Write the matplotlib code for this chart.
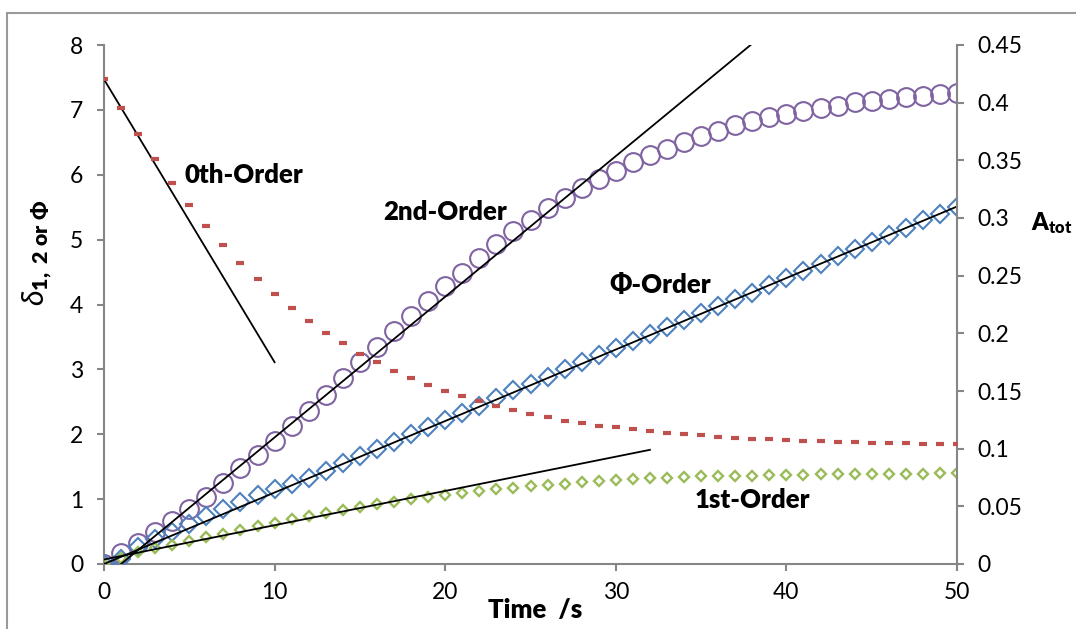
import matplotlib
matplotlib.use("Agg")
import matplotlib.pyplot as plt
from matplotlib.patches import Rectangle

plt.rcParams['font.family'] = ['Lato', 'DejaVu Sans']
plt.rcParams['mathtext.fontset'] = 'custom'
plt.rcParams['mathtext.rm'] = 'Lato'
plt.rcParams['mathtext.bf'] = 'Lato:heavy'
plt.rcParams['mathtext.it'] = 'Lato:italic'

# time axis, s
time = list(range(51))

# delta, 2nd order (purple circles)
delta_2nd = [0.00, 0.17, 0.32, 0.50, 0.66, 0.85, 1.04, 1.25, 1.48, 1.68,
             1.89, 2.12, 2.36, 2.61, 2.87, 3.11, 3.34, 3.59, 3.82, 4.06,
             4.29, 4.49, 4.72, 4.93, 5.14, 5.31, 5.48, 5.64, 5.80, 5.94,
             6.06, 6.19, 6.31, 6.40, 6.51, 6.60, 6.67, 6.76, 6.83, 6.89,
             6.94, 6.99, 7.03, 7.06, 7.12, 7.14, 7.17, 7.20, 7.22, 7.25,
             7.26]

# delta, phi order (blue diamonds)
delta_phi = [0.00, 0.08, 0.26, 0.38, 0.50, 0.62, 0.74, 0.85, 0.96, 1.06,
             1.15, 1.24, 1.33, 1.43, 1.55, 1.66, 1.77, 1.88, 2.00, 2.11,
             2.22, 2.33, 2.44, 2.56, 2.68, 2.78, 2.89, 3.00, 3.11, 3.22,
             3.33, 3.44, 3.55, 3.65, 3.76, 3.87, 3.98, 4.08, 4.18, 4.30,
             4.41, 4.52, 4.63, 4.74, 4.85, 4.96, 5.07, 5.18, 5.30, 5.40,
             5.51]

# delta, 1st order (green small diamonds)
delta_1st = [0.00, 0.09, 0.19, 0.245, 0.30, 0.36, 0.42, 0.47, 0.52, 0.58,
             0.63, 0.69, 0.74, 0.79, 0.84, 0.88, 0.92, 0.96, 1.00, 1.03,
             1.06, 1.09, 1.12, 1.15, 1.17, 1.20, 1.22, 1.24, 1.26, 1.28,
             1.29, 1.31, 1.32, 1.33, 1.34, 1.35, 1.35, 1.36, 1.36, 1.37,
             1.37, 1.37, 1.38, 1.38, 1.38, 1.39, 1.39, 1.39, 1.39, 1.40,
             1.40]

# total absorbance (red dashes, right axis)
a_tot = [0.4202, 0.3956, 0.3725, 0.3508, 0.3303, 0.3110, 0.2934, 0.2767,
         0.2612, 0.2471, 0.2343, 0.2217, 0.2108, 0.2003, 0.1915, 0.1821,
         0.1748, 0.1675, 0.1616, 0.1552, 0.1499, 0.1455, 0.1411, 0.1368,
         0.1332, 0.1300, 0.1274, 0.1244, 0.1221, 0.1200, 0.1186, 0.1168,
         0.1154, 0.1139, 0.1127, 0.1119, 0.1104, 0.1095, 0.1083, 0.1080,
         0.1072, 0.1066, 0.1063, 0.1060, 0.1054, 0.1051, 0.1048, 0.1045,
         0.1042, 0.1042, 0.1040]

# initial-slope lines (x pair, y pair) in left-axis units
tan_0th = ([0, 10], [7.47, 3.11])
tan_2nd = ([1, 37.9], [0.0, 8.0])
tan_phi = ([0, 50], [0.0, 5.51])
tan_1st = ([0, 32], [0.07, 1.76])

labels = ["0th-Order", "2nd-Order", "\u03a6-Order", "1st-Order"]
label_pos = [(8.2, 6.0), (20.0, 5.43), (32.6, 4.30), (38.0, 0.99)]

grey = '#868686'

fig = plt.figure(figsize=(10.76, 6.29), dpi=100)
ax = fig.add_axes([104/1076, 65/629, 853/1076, 519/629])
ax2 = ax.twinx()

ax.plot(time, delta_2nd, 'o', ms=13.5, mfc='none', mec='#8064A2', mew=1.5,
        zorder=3)
ax.plot(time, delta_phi, 'D', ms=9.0, mfc='none', mec='#4F81BD', mew=1.5,
        zorder=3)
ax.plot(time, delta_1st, 'D', ms=5.0, mfc='none', mec='#9BBB59', mew=1.7,
        zorder=3)
ax2.plot(time, a_tot, '_', ms=5.5, mec='#C0504D', mew=3.0, zorder=3)

for xs, ys in (tan_0th, tan_2nd, tan_phi, tan_1st):
    ax.plot(xs, ys, '-', color='black', lw=1.3, zorder=4)

for txt, (px, py) in zip(labels, label_pos):
    ax.text(px, py, txt, fontsize=18.5, fontweight='heavy', ha='center',
            va='center', zorder=5)

ax.set_xlim(0, 50)
ax.set_ylim(0, 8)
ax2.set_ylim(0, 0.45)
ax.set_xticks(range(0, 51, 10))
ax.set_yticks(range(0, 9))
ax2.set_yticks([0, 0.05, 0.1, 0.15, 0.2, 0.25, 0.3, 0.35, 0.4, 0.45])
ax2.set_yticklabels(['0', '0.05', '0.1', '0.15', '0.2', '0.25', '0.3',
                     '0.35', '0.4', '0.45'])

for a in (ax, ax2):
    a.spines['top'].set_visible(False)
    for s in ('left', 'right', 'bottom'):
        a.spines[s].set_color(grey)
        a.spines[s].set_linewidth(1.5)
    a.tick_params(colors=grey, labelcolor='black', labelsize=16.5,
                  length=5, width=1.5, direction='out')
ax.spines['right'].set_visible(False)
ax2.spines['left'].set_visible(False)
ax2.spines['bottom'].set_visible(False)
ax.tick_params(axis='x', pad=8)
ax.tick_params(axis='y', pad=10)
ax2.tick_params(axis='y', pad=10)

ax.set_xlabel('Time  /s', fontsize=18.5, fontweight='heavy', va='center')
ax.xaxis.set_label_coords(0.506, -0.088)
ax.set_ylabel(r'$\delta_{\mathbf{1,\ 2\ or\ \Phi}}$', fontsize=22,
              va='center')
ax.yaxis.set_label_coords(-0.077, 0.60)
ax2.set_ylabel(r'$\mathbf{A_{tot}}$', fontsize=17, rotation=0,
               va='center', ha='left')
ax2.yaxis.set_label_coords(1.087, 0.657)

fig.add_artist(Rectangle((7/1076, -0.1), 1.2, (629-13)/629 + 0.1,
                         transform=fig.transFigure, fill=False,
                         edgecolor='#9a9a9a', lw=1.5, clip_on=False))

fig.savefig('out.png', dpi=100)
